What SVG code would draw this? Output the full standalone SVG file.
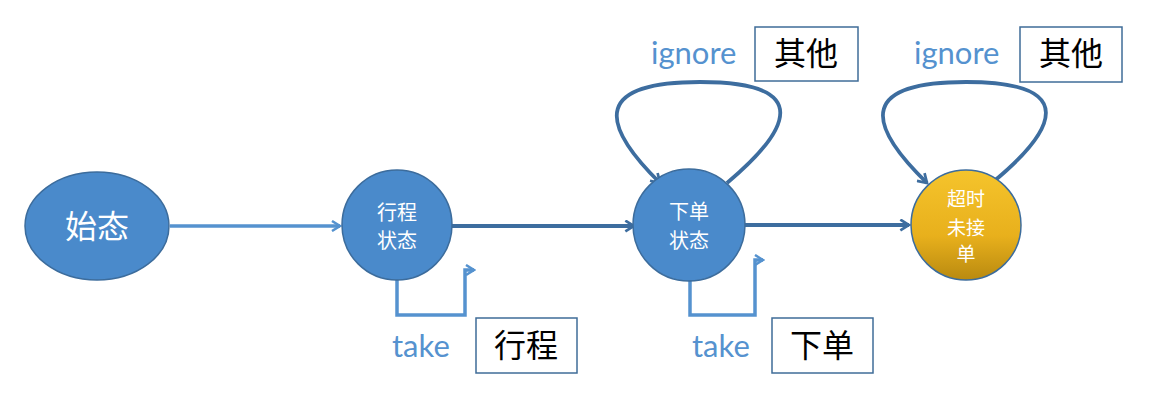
<svg xmlns="http://www.w3.org/2000/svg" width="1152" height="407" viewBox="0 0 1152 407">
<style>
.node{fill:#4a8acb;stroke:#3c6c9c;stroke-width:1.5}
.ntxt{fill:#fff;font-family:"Noto Sans CJK SC",sans-serif;text-anchor:middle}
.lbl{fill:#5592cf;font-family:Lato,"Open Sans",sans-serif;font-size:31px}
.box{fill:#fff;stroke:#3f6c98;stroke-width:1.5}
.btxt{fill:#000;font-family:"Noto Sans CJK SC",sans-serif;font-size:32px;text-anchor:middle}
.e1{fill:none;stroke:#5592cf;stroke-width:3.5}
.e2{fill:none;stroke:#3d6d9f;stroke-width:3.8}
</style>
<defs>
<marker id="a1" viewBox="0 0 12 12" refX="10" refY="6" markerWidth="12" markerHeight="12" markerUnits="userSpaceOnUse" orient="auto">
<path d="M2,1 L10,6 L2,11" fill="none" stroke="#5592cf" stroke-width="2.5"/>
</marker>
<marker id="a2" viewBox="0 0 12 12" refX="10" refY="6" markerWidth="13" markerHeight="13" markerUnits="userSpaceOnUse" orient="auto">
<path d="M2,1 L10,6 L2,11" fill="none" stroke="#3d6d9f" stroke-width="2.5"/>
</marker>
<linearGradient id="gold" x1="0" y1="0" x2="0" y2="1">
<stop offset="0" stop-color="#f5c42c"/>
<stop offset="0.6" stop-color="#e8b01c"/>
<stop offset="1" stop-color="#b98a10"/>
</linearGradient>
</defs>
<g id="edges">
<path class="e1" d="M170,226 H340" marker-end="url(#a1)"/>
<path class="e2" d="M452,226 H634" marker-end="url(#a2)"/>
<path class="e2" d="M745,225 H909" marker-end="url(#a2)"/>
<path class="e1" d="M397,280 V315 H465 V270 H474" marker-end="url(#a1)"/>
<path class="e1" d="M690,280 V315 H755 V260 H763" marker-end="url(#a1)"/>
<path class="e2" d="M727,183 C790,130 815,82 700,82 C598,82 596,120 660,183" marker-end="url(#a2)"/>
<path class="e2" d="M993,182 C1056,130 1080,82 966,82 C864,82 862,120 927,183" marker-end="url(#a2)"/>
</g>
<g id="n-start">
<ellipse class="node" cx="97" cy="226" rx="72" ry="54"/>
<text class="ntxt" x="97" y="238" font-size="32">始态</text>
</g>
<g id="n-trip">
<circle class="node" cx="397" cy="225" r="55"/>
<text class="ntxt" x="397" y="220" font-size="20">行程</text>
<text class="ntxt" x="397" y="248" font-size="20">状态</text>
</g>
<g id="n-order">
<circle class="node" cx="689" cy="225" r="56"/>
<text class="ntxt" x="689" y="219" font-size="20">下单</text>
<text class="ntxt" x="689" y="248" font-size="20">状态</text>
</g>
<g id="n-timeout">
<circle cx="966" cy="225" r="55" fill="url(#gold)" stroke="#3c6c9c" stroke-width="1.5"/>
<text class="ntxt" x="966" y="206" font-size="19">超时</text>
<text class="ntxt" x="966" y="235" font-size="19">未接</text>
<text class="ntxt" x="966" y="261" font-size="19">单</text>
</g>
<g id="l-take1">
<text class="lbl" x="392" y="357">take</text>
<rect class="box" x="476" y="318" width="101" height="55"/>
<text class="btxt" x="526" y="357">行程</text>
</g>
<g id="l-take2">
<text class="lbl" x="692" y="357">take</text>
<rect class="box" x="772" y="318" width="101" height="55"/>
<text class="btxt" x="822" y="357">下单</text>
</g>
<g id="l-ign1">
<text class="lbl" x="651" y="64">ignore</text>
<rect class="box" x="755" y="27" width="103" height="54"/>
<text class="btxt" x="806" y="65">其他</text>
</g>
<g id="l-ign2">
<text class="lbl" x="914" y="64">ignore</text>
<rect class="box" x="1020" y="27" width="102" height="55"/>
<text class="btxt" x="1071" y="65">其他</text>
</g>
</svg>
